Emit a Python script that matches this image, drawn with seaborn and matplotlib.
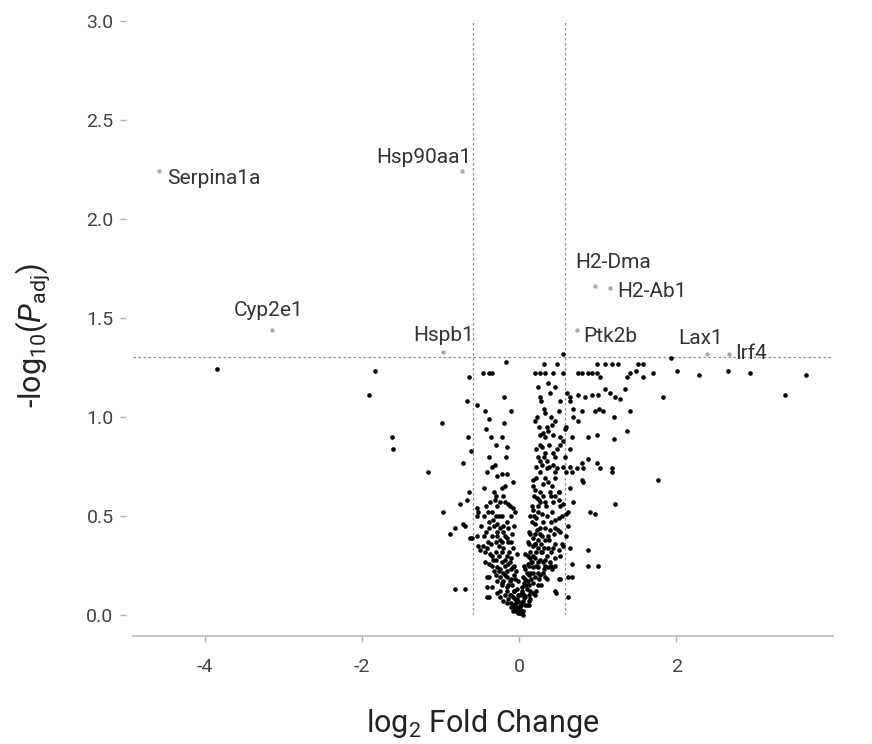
import numpy as np
import pandas as pd
import matplotlib
matplotlib.use("Agg")
import matplotlib.pyplot as plt
import seaborn as sns

# ---------------------------------------------------------------------------
# Differential expression results: log2 fold change and -log10 adjusted p
# ---------------------------------------------------------------------------
log2fc = [
    # strongly down-regulated / outliers on the left
    -3.84, -1.83, -1.91, -1.62, -1.60, -0.98, -1.16, -0.97, -0.88, -0.81,
    -0.69, -0.81, -0.69, -0.71, -0.62, -0.53, -0.52, -0.50,
    # upper left of the cloud
    -0.17, -0.64, -0.46, -0.39, -0.34, -0.19, -0.66, -0.53, -0.43, -0.11,
    -0.39, -0.19, -0.65, -0.36, -0.22, -0.61, -0.15, -0.17, -0.71, -0.34,
    -0.31, -0.41, -0.22, -0.15, -0.08, -0.18, -0.22, -0.64, -0.66, -0.75,
    -0.53, -0.53, -0.60, -0.41, -0.41, -0.52,
    # left arm
    -0.37, -0.31, -0.24, -0.18, -0.14, -0.08, -0.05,
    -0.34, -0.33, -0.28, -0.24, -0.20, -0.14, -0.09, -0.15, -0.24, -0.20,
    -0.11, -0.08, -0.03, -0.11, -0.18,
    -0.41, -0.37, -0.33, -0.39, -0.28, -0.24, -0.20, -0.15, -0.24, -0.11,
    -0.08, -0.05, -0.09, -0.03, -0.08, -0.01, 0.01, -0.05, 0.04, 0.05,
    -0.39, -0.41, -0.34, -0.39, -0.28, -0.24, -0.20, -0.15, -0.11,
    -0.30, -0.20, -0.42, -0.28, -0.12, -0.45, -0.30, -0.22, -0.10, -0.38,
    -0.16, -0.48, -0.32, -0.20, -0.06, -0.42, -0.28, -0.45, -0.35, -0.18,
    -0.40, -0.30, -0.22, -0.14, -0.46, -0.26, -0.44, -0.30, -0.22, -0.13,
    -0.35, -0.26, -0.16, -0.44, -0.22, -0.12, -0.34, -0.18, -0.06, -0.32,
    -0.16, -0.04, -0.30, -0.18, -0.07, -0.28, -0.20, -0.12, -0.02, -0.22,
    -0.14, -0.24, -0.16, -0.06, -0.18, -0.10, -0.02, -0.14, -0.05, -0.10,
    -0.04, -0.07, -0.02, -0.04, 0.00, -0.02, 0.02,
    -0.12, -0.06, -0.16, -0.10, -0.22, -0.26, -0.14, -0.30, -0.36, -0.28,
    -0.38, -0.26, -0.40, -0.32, -0.45, -0.28, -0.38, -0.30, -0.42, -0.06,
    -0.03, -0.08,
    # upper right of the cloud
    0.56, 0.31, 0.48, 0.99, 1.09, 1.18, 1.26, 1.51, 1.58, 1.93,
    2.01, 1.70, 1.83,
    0.20, 0.27, 0.33, 0.43, 0.56,
    0.75, 0.80, 0.87, 0.93, 0.99, 1.03,
    1.37, 1.41, 1.48, 1.58,
    0.37, 0.39, 0.27,
    0.61, 0.65, 0.75, 0.84, 0.93, 1.00, 1.09, 1.16, 1.22, 1.28, 1.35,
    0.31, 0.33, 0.50, 0.69, 0.69, 0.80, 0.97, 1.01, 1.06, 1.20, 1.41,
    0.42, 0.37, 0.27, 0.33, 0.43, 0.52, 0.56, 0.67, 0.88, 0.99, 1.20, 1.37,
    0.29, 0.33, 0.43, 0.48, 0.65,
    0.27, 0.29, 0.36, 0.43, 0.48, 0.56, 0.65, 0.80, 0.81, 0.99, 1.03,
    1.18, 1.18,
    0.65, 0.75, 1.76, 1.22, 0.88, 0.87, 0.74, 0.80, 0.90, 0.97,
    0.65, 0.62, 0.67, 0.52, 0.62, 0.47, 0.88, 1.00,
    # right arm
    0.27, 0.46, 0.59, 0.67, 0.81,
    0.37, 0.42, 0.39, 0.46, 0.50, 0.43, 0.20, 0.17, 0.23, 0.27, 0.33,
    0.65, 0.69, 0.62, 0.59, 0.55, 0.42, 0.36, 0.29, 0.24, 0.18, 0.14,
    0.20, 0.27, 0.33, 0.39, 0.46, 0.52, 0.37, 0.29, 0.20, 0.17, 0.11,
    0.17, 0.24, 0.31, 0.37, 0.43, 0.50, 0.56, 0.59, 0.62,
    0.08, 0.14, 0.20, 0.27, 0.33, 0.39, 0.46, 0.11, 0.18, 0.24, 0.31,
    0.37, 0.08, 0.14, 0.20, 0.27, 0.33, 0.42, 0.46, 0.05, 0.11, 0.18,
    0.24, 0.04, 0.10, 0.17, 0.01, 0.08, 0.14, 0.10, -0.03, 0.01, 0.05,
    0.50, 0.46, 0.67,
    0.02, 0.07, 0.12, 0.05, 0.12, 0.06, 0.12, 0.20, 0.03, 0.14, 0.22,
    0.08, 0.13, 0.28, 0.08, 0.15, 0.25, 0.36, 0.10, 0.17, 0.24, 0.30,
    0.06, 0.13, 0.22, 0.33, 0.40, 0.16, 0.24, 0.30, 0.11, 0.18, 0.36,
    0.52, 0.14, 0.22, 0.29, 0.40, 0.13, 0.20, 0.28, 0.45, 0.54, 0.24,
    0.33, 0.14, 0.26, 0.44, 0.23, 0.49, 0.16, 0.30, 0.41, 0.22, 0.50,
    0.16, 0.24, 0.34, 0.52, 0.19, 0.30, 0.41, 0.26, 0.50, 0.22, 0.33,
    0.45, 0.21, 0.38, 0.24, 0.31, 0.45, 0.58, 0.27, 0.38, 0.52, 0.25,
    0.35, 0.60, 0.23, 0.40,
    0.02, 0.06, 0.03, 0.09, 0.12, 0.15, 0.06, 0.20, 0.13, 0.19, 0.25,
    0.30, 0.18, 0.35, 0.22, 0.30, 0.20, 0.28, 0.24, 0.45, 0.52, 0.46,
    0.58, 0.50, 0.56, 0.45, 0.38, 0.28,
    # strongly up-regulated on the right
    3.65, 3.38, 2.93, 2.65, 2.28,
]

neg_log10_padj = [
    1.24, 1.23, 1.11, 0.90, 0.84, 0.97, 0.72, 0.52, 0.41, 0.44,
    0.45, 0.13, 0.13, 0.46, 0.39, 0.40, 0.35, 0.33,
    1.28, 1.20, 1.22, 1.22, 1.22, 1.10, 1.08, 1.06, 1.03, 1.03,
    0.99, 0.97, 0.90, 0.90, 0.90, 0.83, 0.85, 0.80, 0.77, 0.75,
    0.76, 0.72, 0.71, 0.71, 0.67, 0.65, 0.64, 0.62, 0.58, 0.56,
    0.54, 0.50, 0.39, 0.09, 0.19, 0.52,
    0.57, 0.58, 0.57, 0.57, 0.56, 0.54, 0.52,
    0.52, 0.48, 0.46, 0.44, 0.42, 0.44, 0.41, 0.39, 0.38, 0.34,
    0.37, 0.34, 0.31, 0.29, 0.28,
    0.34, 0.31, 0.28, 0.26, 0.24, 0.23, 0.21, 0.19, 0.19, 0.23,
    0.24, 0.18, 0.15, 0.13, 0.09, 0.07, 0.04, 0.03, 0.02, 0.00,
    0.19, 0.14, 0.14, 0.09, 0.11, 0.09, 0.07, 0.06, 0.04,
    0.60, 0.60, 0.55, 0.55, 0.55, 0.50, 0.50, 0.50, 0.50, 0.47,
    0.47, 0.45, 0.45, 0.45, 0.45, 0.42, 0.42, 0.40, 0.40, 0.40,
    0.37, 0.37, 0.37, 0.37, 0.35, 0.35, 0.32, 0.32, 0.32, 0.32,
    0.30, 0.30, 0.30, 0.27, 0.27, 0.27, 0.25, 0.25, 0.25, 0.22,
    0.22, 0.22, 0.20, 0.20, 0.20, 0.17, 0.17, 0.17, 0.17, 0.15,
    0.15, 0.12, 0.12, 0.12, 0.10, 0.10, 0.10, 0.08, 0.08, 0.06,
    0.06, 0.04, 0.04, 0.02, 0.02, 0.01, 0.01,
    0.10, 0.12, 0.14, 0.18, 0.16, 0.22, 0.26, 0.28, 0.36, 0.40,
    0.44, 0.50, 0.52, 0.62, 0.64, 0.70, 0.80, 0.86, 0.94, 0.05,
    0.08, 0.02,
    1.32, 1.27, 1.27, 1.27, 1.27, 1.27, 1.27, 1.27, 1.27, 1.30,
    1.23, 1.22, 1.10,
    1.22, 1.22, 1.22, 1.22, 1.22,
    1.22, 1.22, 1.22, 1.22, 1.22, 1.20,
    1.20, 1.22, 1.23, 1.20,
    1.17, 1.12, 1.10,
    1.12, 1.10, 1.11, 1.10, 1.11, 1.11, 1.14, 1.12, 1.10, 1.09, 1.14,
    1.04, 1.02, 1.03, 1.04, 1.00, 1.03, 1.03, 1.04, 1.03, 1.00, 1.03,
    0.96, 0.93, 0.91, 0.90, 0.91, 0.90, 0.88, 0.90, 0.90, 0.91, 0.89, 0.93,
    0.85, 0.82, 0.82, 0.84, 0.84,
    0.78, 0.76, 0.74, 0.76, 0.74, 0.75, 0.75, 0.77, 0.74, 0.77, 0.74,
    0.74, 0.72,
    1.08, 0.98, 0.68, 0.56, 0.33, 0.79, 0.74, 0.68, 0.52, 0.51,
    0.34, 0.19, 0.19, 0.18, 0.09, 0.11, 0.25, 0.25,
    0.72, 0.72, 0.72, 0.72, 0.67,
    0.67, 0.65, 0.62, 0.60, 0.58, 0.57, 0.63, 0.65, 0.59, 0.57, 0.57,
    0.64, 0.57, 0.52, 0.51, 0.50, 0.52, 0.50, 0.51, 0.52, 0.53, 0.50,
    0.46, 0.44, 0.44, 0.43, 0.44, 0.42, 0.40, 0.40, 0.41, 0.39, 0.37,
    0.35, 0.34, 0.34, 0.34, 0.34, 0.33, 0.35, 0.40, 0.45,
    0.31, 0.29, 0.29, 0.28, 0.28, 0.27, 0.29, 0.26, 0.24, 0.24, 0.23,
    0.24, 0.23, 0.21, 0.19, 0.20, 0.19, 0.23, 0.25, 0.19, 0.17, 0.16,
    0.15, 0.14, 0.13, 0.11, 0.10, 0.09, 0.08, 0.05, 0.03, 0.01, 0.02,
    0.18, 0.12, 0.26,
    0.05, 0.05, 0.05, 0.07, 0.07, 0.10, 0.10, 0.10, 0.12, 0.12, 0.12,
    0.15, 0.15, 0.15, 0.18, 0.18, 0.18, 0.18, 0.21, 0.21, 0.21, 0.21,
    0.25, 0.25, 0.25, 0.25, 0.25, 0.27, 0.27, 0.27, 0.30, 0.30, 0.30,
    0.30, 0.32, 0.32, 0.32, 0.32, 0.36, 0.36, 0.36, 0.36, 0.36, 0.38,
    0.38, 0.41, 0.41, 0.41, 0.43, 0.43, 0.47, 0.47, 0.47, 0.49, 0.49,
    0.55, 0.55, 0.55, 0.55, 0.60, 0.60, 0.60, 0.62, 0.62, 0.69, 0.69,
    0.69, 0.75, 0.75, 0.80, 0.80, 0.80, 0.80, 0.86, 0.86, 0.86, 0.95,
    0.95, 0.95, 1.00, 1.00,
    0.06, 0.09, 0.11, 0.15, 0.20, 0.27, 0.16, 0.36, 0.42, 0.50, 0.58,
    0.66, 0.68, 0.78, 0.84, 0.92, 0.98, 1.08, 1.15, 1.15, 1.08, 0.98,
    0.94, 0.62, 0.56, 0.48, 0.38, 0.32,
    1.21, 1.11, 1.22, 1.23, 1.21,
]

# Highlighted genes
gene_names = ["Serpina1a", "Hsp90aa1", "Cyp2e1", "Hspb1", "H2-Dma",
              "H2-Ab1", "Ptk2b", "Lax1", "Irf4"]
gene_fc = [-4.58, -0.725, -3.14, -0.97, 0.97, 1.15, 0.73, 2.39, 2.67]
gene_p = [2.24, 2.24, 1.44, 1.33, 1.66, 1.65, 1.44, 1.32, 1.32]

# Significance cut-offs
P_CUTOFF = -np.log10(0.05)
FC_CUTOFF = np.log2(1.5)

# Label placement (pixel offsets from the point, horizontal alignment)
label_offsets = {
    "Serpina1a": (8, -7, "left"),
    "Hsp90aa1": (-38, 14, "center"),
    "Cyp2e1": (-4, 19, "center"),
    "Hspb1": (1, 16, "center"),
    "H2-Dma": (18, 24, "center"),
    "H2-Ab1": (8, -3, "left"),
    "Ptk2b": (7, -7, "left"),
    "Lax1": (-7, 15, "center"),
    "Irf4": (6, 0, "left"),
}

# ---------------------------------------------------------------------------
sns.set_theme(style="white")
plt.rcParams["font.family"] = ["Roboto", "DejaVu Sans"]
plt.rcParams["mathtext.fontset"] = "custom"
plt.rcParams["mathtext.rm"] = "Roboto"
plt.rcParams["mathtext.it"] = "Roboto:italic"
plt.rcParams["mathtext.bf"] = "Roboto:bold"
plt.rcParams["axes.unicode_minus"] = False

df = pd.DataFrame({"log2FC": log2fc, "nlp": neg_log10_padj})
hl = pd.DataFrame({"gene": gene_names, "log2FC": gene_fc, "nlp": gene_p})

W, H = 872, 744
fig = plt.figure(figsize=(W / 100, H / 100), dpi=100)
ax = fig.add_axes([133 / W, 1 - 615 / H, 700 / W, 594 / H])

sns.scatterplot(data=df, x="log2FC", y="nlp", ax=ax, s=11, color="black",
                linewidth=0, clip_on=False, zorder=3)
sns.scatterplot(data=hl, x="log2FC", y="nlp", ax=ax, s=10, color="#a3aca3",
                linewidth=0, clip_on=False, zorder=3)

line_kw = dict(color="#8c8c8c", lw=0.9, ls=(0, (2, 2)), zorder=1)
ax.axhline(P_CUTOFF, **line_kw)
ax.axvline(-FC_CUTOFF, **line_kw)
ax.axvline(FC_CUTOFF, **line_kw)

for g, x, y in zip(gene_names, gene_fc, gene_p):
    dx, dy, ha = label_offsets[g]
    ax.annotate(g, (x, y), xytext=(dx, dy), textcoords="offset pixels",
                ha=ha, va="center", fontsize=15, color="#333333", zorder=4)

ax.set_xlim(-4.91, 3.99)
ax.set_ylim(0, 3.0)
ax.set_xticks([-4, -2, 0, 2])
ax.set_yticks(np.arange(0, 3.01, 0.5))
ax.set_yticklabels([f"{v:.1f}" for v in np.arange(0, 3.01, 0.5)])

sns.despine(ax=ax, offset={"left": 5, "bottom": 15})
ax.spines["left"].set_visible(False)
ax.spines["bottom"].set_color("#c4c4c4")
ax.spines["bottom"].set_linewidth(1.5)

ax.tick_params(axis="both", which="major", labelsize=14, labelcolor="#444444",
               color="#b0b0b0", length=4, width=1, pad=5)
ax.tick_params(axis="x", pad=12)
ax.tick_params(left=True, bottom=True)

ax.set_xlabel(r"log$_2$ Fold Change", fontsize=22, color="#222222")
ax.set_ylabel(r"-log$_{10}$($\mathit{P}_{\mathrm{adj}}$)", fontsize=22,
              color="#222222")
ax.xaxis.set_label_coords(0.5, (615 - 723) / 594)
ax.xaxis.label.set_va("center")
ax.yaxis.set_label_coords((33 - 133) / 700, 0.47)
ax.yaxis.label.set_va("center")

fig.savefig("out.png", dpi=100)
